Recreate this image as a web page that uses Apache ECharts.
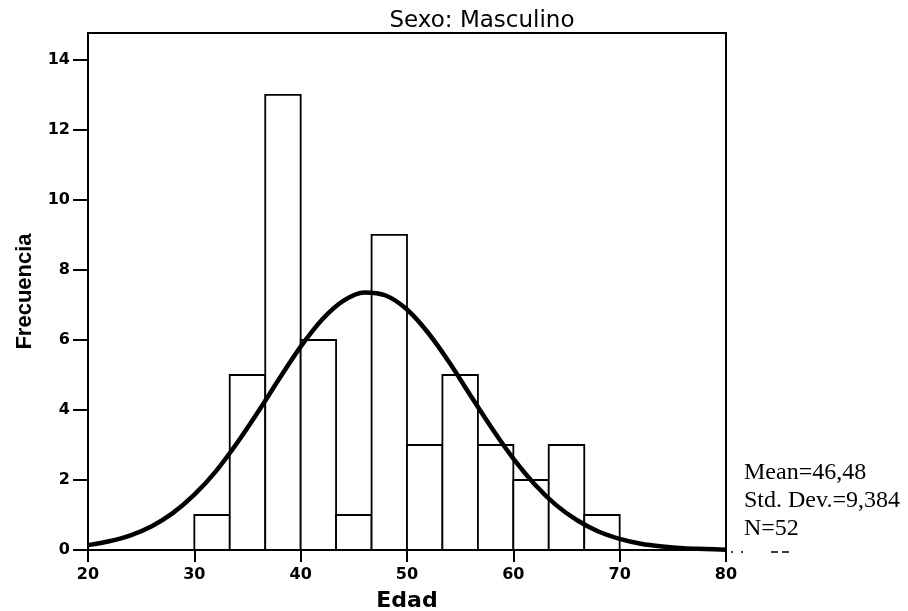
<!DOCTYPE html>
<html>
<head>
<meta charset="utf-8">
<script src="https://cdn.jsdelivr.net/npm/echarts@6/dist/echarts.min.js"></script>
<style>
html,body{margin:0;padding:0;background:#fff;}
#chart{width:908px;height:611px;}
</style>
</head>
<body>
<div id="chart"></div>
<script>
// Histogram bins (Edad) and counts (Frecuencia)
const binStarts = [30, 33.33, 36.67, 40, 43.33, 46.67, 50, 53.33, 56.67, 60, 63.33, 66.67];
const binEnds   = [33.33, 36.67, 40, 43.33, 46.67, 50, 53.33, 56.67, 60, 63.33, 66.67, 70];
const counts    = [1, 5, 13, 6, 1, 9, 3, 5, 3, 2, 3, 1];

// Normal curve
const curveX = [20, 22, 24, 26, 28, 30, 32, 34, 36, 38, 40, 42, 44, 46, 48, 50, 52, 54, 56, 58, 60, 62, 64, 66, 68, 70, 72, 74, 76, 78, 80];
const curveY = [0.14, 0.25, 0.42, 0.68, 1.06, 1.58, 2.24, 3.05, 3.95, 4.9, 5.81, 6.58, 7.12, 7.36, 7.27, 6.87, 6.2, 5.35, 4.4, 3.47, 2.61, 1.88, 1.29, 0.85, 0.53, 0.32, 0.18, 0.1, 0.05, 0.03, 0.01];

const xTicks = [20, 30, 40, 50, 60, 70, 80];
const yTicks = [0, 2, 4, 6, 8, 10, 12, 14];

const titleText = 'Sexo: Masculino';
const statsLines = ['Mean=46,48', 'Std. Dev.=9,384', 'N=52'];

const barData = binStarts.map((s, i) => [s, binEnds[i], counts[i]]);
const curveData = curveX.map((x, i) => [x, curveY[i]]);

const chart = echarts.init(document.getElementById('chart'), null, {renderer: 'canvas'});

const tickFont = {fontFamily: 'DejaVu Sans', fontWeight: 'bold', fontSize: 16, color: '#000'};

chart.setOption({
  animation: false,
  backgroundColor: '#fff',
  title: {
    text: titleText,
    left: 482,
    top: 10,
    padding: 0,
    textAlign: 'center',
    textStyle: {fontFamily: 'DejaVu Sans', fontWeight: 'normal', fontSize: 23, color: '#000'}
  },
  grid: {
    left: 88, top: 33, right: 182, bottom: 61,
    containLabel: false, outerBoundsMode: 'none',
    show: true, borderColor: '#000', borderWidth: 2, backgroundColor: 'transparent'
  },
  xAxis: {
    type: 'value', min: 20, max: 80, interval: 10,
    name: 'Edad', nameLocation: 'middle', nameGap: 40,
    nameTextStyle: {fontFamily: 'DejaVu Sans', fontWeight: 'bold', fontSize: 22, color: '#000'},
    axisLine: {show: true, onZero: false, lineStyle: {color: '#000', width: 2}},
    axisTick: {show: true, length: 12, lineStyle: {color: '#000', width: 2}, customValues: xTicks},
    axisLabel: {...tickFont, margin: 17, customValues: xTicks},
    splitLine: {show: false}
  },
  yAxis: {
    type: 'value', min: 0, max: 14.77, interval: 2,
    name: 'Frecuencia', nameLocation: 'middle', nameGap: 52, nameRotate: 90,
    nameTextStyle: {fontFamily: 'Liberation Sans', fontWeight: 'bold', fontSize: 22, color: '#000'},
    axisLine: {show: true, lineStyle: {color: '#000', width: 2}},
    axisTick: {show: true, length: 15, lineStyle: {color: '#000', width: 2}, customValues: yTicks},
    axisLabel: {...tickFont, margin: 18, customValues: yTicks},
    splitLine: {show: false}
  },
  series: [
    {
      type: 'custom',
      data: barData,
      encode: {x: [0, 1], y: 2},
      renderItem: function (params, api) {
        const p0 = api.coord([api.value(0), api.value(2)]);
        const p1 = api.coord([api.value(1), 0]);
        return {
          type: 'rect',
          shape: {x: p0[0], y: p0[1], width: p1[0] - p0[0], height: p1[1] - p0[1]},
          style: {fill: '#fff', stroke: '#000', lineWidth: 1.8}
        };
      },
      z: 2
    },
    {
      type: 'line',
      data: curveData,
      smooth: 0.3,
      symbol: 'none',
      lineStyle: {color: '#000', width: 4.5},
      z: 3
    }
  ],
  graphic: [
    {type: 'text', left: 744, top: 461, style: {text: statsLines[0], font: '24px "Liberation Serif"', fill: '#000'}},
    {type: 'text', left: 744, top: 489, style: {text: statsLines[1], font: '24px "Liberation Serif"', fill: '#000'}},
    {type: 'text', left: 744, top: 517, style: {text: statsLines[2], font: '24px "Liberation Serif"', fill: '#000'}},
    {type: 'line', shape: {x1: 731, y1: 552, x2: 745, y2: 552}, style: {stroke: '#000', lineWidth: 1.5, lineDash: [2, 8]}},
    {type: 'line', shape: {x1: 771, y1: 552, x2: 791, y2: 552}, style: {stroke: '#000', lineWidth: 1.5, lineDash: [7, 4]}}
  ]
});
</script>
</body>
</html>
